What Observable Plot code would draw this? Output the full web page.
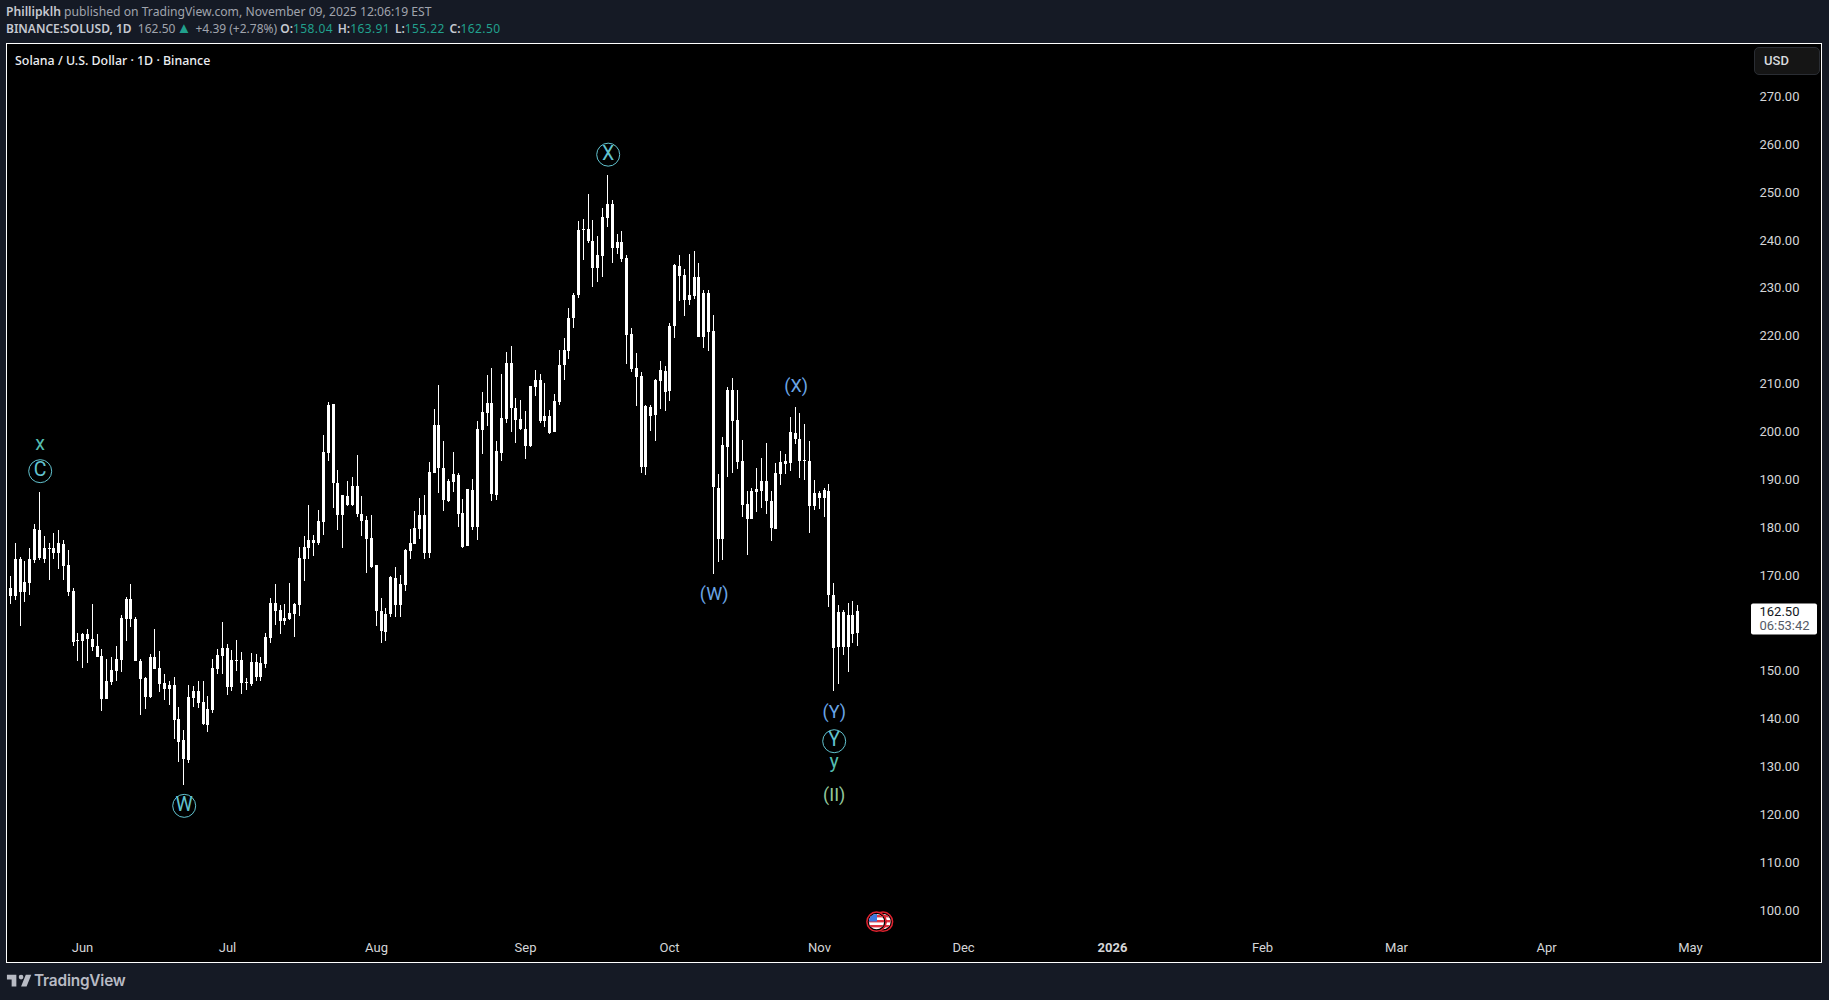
<!DOCTYPE html>
<html><head><meta charset="utf-8">
<script src="https://cdn.jsdelivr.net/npm/d3@7"></script>
<script src="https://cdn.jsdelivr.net/npm/@observablehq/plot@0.6"></script>
<style>
html,body{margin:0;padding:0;background:#151a25;width:1829px;height:1000px;overflow:hidden}
.abs{position:absolute;white-space:nowrap}
#head1,#head2{font:12px "Noto Sans",sans-serif;color:#a0a4ad;left:6px;line-height:16px}
#head1{top:4px;font-size:12.17px}#head2{top:21px}
#head1 b,#head2 b{color:#c6c9d1;font-weight:600}
.t{color:#21a08d}
.tri{font-size:15px;line-height:12px;margin:0 1px 0 -2px}
.v{letter-spacing:.4px;margin-right:1.7px}
#pane{left:6px;top:43px;width:1814px;height:918px;border:1px solid #fff;background:#000}
#title{left:15px;top:51.5px;font:500 12.4px/18px "Noto Sans",sans-serif;color:#eceef2}
#usd{left:1754px;top:47px;width:64px;height:26px;border:1px solid #2a2d33;border-radius:5px;background:#151515;color:#d8dade;font:500 13px/26px Roboto,sans-serif;text-indent:9px;box-sizing:content-box}
#chart{left:0;top:0}
#brand{left:34px;top:968.5px;font:600 15.4px/24px Inter,sans-serif;color:#b8bbc4;letter-spacing:-.2px}
</style></head><body>
<div class="abs" id="head1"><b>Phillipklh</b> published on TradingView.com, November 09, 2025 12:06:19 EST</div>
<div class="abs" id="head2"><b>BINANCE:SOLUSD, 1D</b>&nbsp; 162.50 <span class="t tri">▲</span> +4.39 (+2.78%) <b>O:</b><span class="t v">158.04</span> <b>H:</b><span class="t v">163.91</span> <b>L:</b><span class="t v">155.22</span> <b>C:</b><span class="t v">162.50</span></div>
<div class="abs" id="pane"></div>
<div class="abs" id="chart"></div>
<div class="abs" id="title">Solana / U.S. Dollar · 1D · Binance</div>
<div class="abs" id="usd">USD</div>
<svg class="abs" style="left:4px;top:970px" width="31" height="22" viewBox="0 0 36 28"><path fill="#b8bbc4" d="M14 6H2v6h6v9h6V6Zm13 15h-7l6-15h7l-6 15Zm-7-9a3 3 0 1 0 0-6 3 3 0 0 0 0 6Z"/></svg>
<div class="abs" id="brand">TradingView</div>
<script>
const firstDay = "2025-05-17";
const highs = [169.9,176.7,173.9,173.1,175.7,180.8,187.5,178.3,176.8,178.9,179.5,177.4,175.4,167.4,158.0,158.0,158.9,164.1,157.8,154.7,152.6,153.0,155.3,161.8,165.5,168.3,161.4,152.6,148.8,153.6,158.9,154.3,149.5,148.0,148.8,142.6,137.8,147.2,147.0,148.0,148.0,144.9,152.6,154.7,160.3,155.7,154.5,156.6,154.1,148.6,153.8,153.6,153.0,158.0,165.3,168.3,163.9,164.1,168.5,164.3,176.0,178.3,184.8,178.5,183.7,199.3,206.2,205.8,192.0,186.8,189.7,190.6,195.2,186.6,182.4,182.6,172.2,165.3,163.2,169.9,171.8,170.1,175.5,179.7,183.5,186.2,186.8,193.7,204.8,209.8,198.1,190.1,195.8,191.4,186.0,188.1,190.1,202.3,208.3,211.9,213.4,198.1,212.1,216.7,218.0,207.1,206.7,204.4,209.6,213.0,212.1,210.2,204.6,207.9,217.1,219.6,225.9,229.0,244.1,244.5,249.7,244.3,241.0,246.8,253.7,248.5,241.4,242.0,237.0,221.7,216.5,212.5,205.6,205.6,211.1,214.8,213.8,222.8,235.1,237.0,234.1,237.2,237.8,235.3,229.7,229.7,224.4,191.2,198.9,209.4,211.2,208.7,198.3,187.6,188.3,192.4,194.5,197.7,187.6,193.5,196.0,195.4,203.1,205.2,203.9,201.6,198.1,189.9,187.6,188.3,189.1,168.4,163.8,162.8,164.2,164.7,163.91];
const bodyTops = [167.4,173.5,173.5,168.6,173.5,179.7,179.5,175.8,175.8,175.8,176.8,176.6,172.2,166.8,156.6,157.8,157.8,156.8,155.3,153.2,148.0,150.3,152.6,161.2,165.1,165.1,160.9,152.2,148.6,153.0,153.0,150.7,147.6,147.2,147.2,140.1,135.7,144.7,145.9,145.9,143.6,142.2,150.7,153.4,154.9,154.9,152.4,152.4,152.4,147.8,152.0,152.0,151.8,157.2,164.3,164.3,162.8,161.2,162.2,164.1,173.7,176.0,177.4,177.4,181.4,195.8,205.6,205.8,189.3,186.8,186.6,188.7,188.7,182.8,181.6,177.8,172.2,162.6,162.0,169.7,169.5,168.2,175.3,176.8,179.9,182.6,182.6,191.6,201.4,201.4,192.4,189.7,191.2,191.0,183.0,188.1,187.8,200.6,204.1,206.0,206.1,196.0,202.9,214.4,214.4,205.0,202.7,200.6,209.6,210.9,210.9,203.4,203.4,206.5,214.0,217.1,223.8,228.6,242.2,242.4,242.4,239.9,237.0,244.9,247.6,247.6,239.7,239.7,236.4,220.5,213.4,211.7,205.4,205.2,210.9,212.9,212.7,222.2,234.9,234.7,232.8,228.6,232.4,232.4,229.1,229.1,221.1,188.3,197.2,208.7,208.7,202.5,193.9,184.9,187.6,188.1,189.7,189.7,185.5,191.4,193.7,193.9,200.0,199.7,198.5,194.1,193.9,187.2,187.2,187.8,187.6,165.9,162.4,162.4,161.7,161.7,162.50];
const bodyBottoms = [165.8,165.8,166.6,166.6,168.5,173.3,173.7,173.5,175.6,174.7,174.7,172.0,166.6,156.1,156.4,156.4,156.8,155.1,153.0,144.2,144.2,147.8,150.1,152.4,160.9,160.9,152.2,148.4,144.7,144.7,150.5,147.4,146.3,146.3,139.9,135.3,131.7,131.5,144.5,143.4,139.0,138.8,141.9,150.5,153.2,146.8,146.8,152.2,147.6,147.6,147.4,148.8,148.8,151.6,157.0,162.6,160.5,160.5,160.9,162.0,163.9,173.5,175.8,176.8,176.8,181.2,195.6,189.3,182.6,182.6,184.7,184.7,182.8,181.4,177.6,171.8,162.6,158.4,158.2,162.0,163.8,163.8,168.0,175.1,176.6,179.7,174.7,174.7,191.4,192.4,185.8,185.5,189.5,182.8,175.9,176.2,180.1,180.1,200.4,203.9,187.0,186.8,195.6,202.7,205.0,202.5,200.6,197.0,197.0,209.4,202.3,202.3,199.8,200.0,206.3,214.0,216.9,223.8,228.6,242.2,239.9,234.3,234.3,236.8,244.7,238.4,238.4,236.2,220.3,213.2,211.5,192.7,192.7,203.3,203.6,210.7,208.4,208.6,222.2,232.6,227.6,227.6,228.4,219.9,219.9,220.9,188.5,177.6,177.6,196.8,202.3,193.7,184.7,181.8,181.8,187.4,187.6,185.5,179.9,179.7,191.2,193.3,193.5,198.5,193.9,193.9,184.5,184.5,186.2,186.2,165.9,154.9,155.1,155.1,155.1,157.8,158.04];
const lows = [164.1,164.9,159.5,164.5,166.0,172.6,173.3,172.6,169.1,173.5,171.4,169.1,165.8,155.3,152.2,150.7,151.8,154.3,153.0,141.7,144.2,147.2,148.0,149.9,156.4,159.3,152.2,140.9,142.2,144.5,150.5,145.7,144.0,143.0,135.9,131.1,126.3,130.9,142.6,142.4,138.8,137.4,141.3,149.5,149.5,145.1,145.9,150.1,145.3,146.1,147.0,148.0,148.0,150.7,155.9,159.7,157.8,159.7,160.7,157.2,161.6,168.9,173.5,174.1,176.4,178.4,193.9,184.1,179.5,175.7,184.5,184.5,182.2,178.2,170.5,171.6,159.4,155.9,156.3,161.3,161.3,161.3,166.8,173.4,176.6,177.6,173.4,173.6,191.4,187.2,183.5,185.3,187.4,180.1,175.7,176.2,179.5,177.4,195.4,201.2,185.5,185.8,193.9,201.9,200.0,197.7,200.4,194.3,196.8,207.5,201.9,201.1,199.6,200.0,205.6,210.9,215.3,221.7,228.0,235.9,239.5,230.3,231.4,232.4,242.8,235.3,237.2,235.5,214.2,212.6,205.3,191.4,191.0,200.2,198.1,204.8,204.4,206.5,219.7,227.4,224.3,226.5,227.8,219.9,217.6,216.9,170.3,172.8,173.2,190.6,191.4,192.2,182.2,174.3,181.8,183.3,184.1,182.8,177.2,179.7,188.9,191.2,191.8,197.4,190.3,189.9,178.9,183.7,183.9,182.2,163.4,145.9,147.3,153.4,149.8,155.9,155.22];
const priceTicks = [100,110,120,130,140,150,170,180,190,200,210,220,230,240,250,260,270];
const monthTicks = ["2025-06-01","2025-07-01","2025-08-01","2025-09-01","2025-10-01","2025-11-01","2025-12-01","2026-01-01","2026-02-01","2026-03-01","2026-04-01","2026-05-01"];
const monthNames = ["Jun","Jul","Aug","Sep","Oct","Nov","Dec","2026","Feb","Mar","Apr","May"];
const lastPrice = 162.50;
const countdown = "06:53:42";
const waveDay = ["2025-05-23","2025-05-23","2025-06-22","2025-09-18","2025-10-27","2025-10-10","2025-11-04","2025-11-04","2025-11-04","2025-11-04"];
const wavePrice = [197.5,191.9,122.0,258.0,209.4,165.9,141.3,135.5,130.9,124.0];
const waveText = ["x","C","W","X","(X)","(W)","(Y)","Y","y","(II)"];
const waveColor = ["#55bdb0","#62c3cf","#62c3cf","#62c3cf","#6aa5e6","#6aa5e6","#6aa5e6","#62c3cf","#55bdb0","#93c79c"];
const waveCircled = [false,true,true,true,false,false,false,true,false,false];

const D = s => new Date(s + "T00:00:00Z");
const start = D(firstDay);
const candles = highs.map((h,i)=>({date:new Date(+start+i*864e5),h,t:bodyTops[i],b:bodyBottoms[i],l:lows[i]}));
const waves = waveText.map((text,i)=>({date:D(waveDay[i]),price:wavePrice[i],text,color:waveColor[i],circled:waveCircled[i]}));
const axisFont = "Roboto,sans-serif";

const tag = (index, scales) => {
  const g = d3.create("svg:g");
  const y = scales.y(lastPrice);
  g.append("rect").attr("x",1751).attr("y",y-8).attr("width",66).attr("height",31).attr("rx",2).attr("fill","#fff");
  return g.node();
};

const chart = Plot.plot({
  width:1829, height:1000,
  marginLeft:6, marginTop:43, marginBottom:37, marginRight:70,
  style:{background:"transparent",fontFamily:axisFont,fontSize:"13px",overflow:"visible"},
  x:{type:"utc",domain:[start,D("2026-05-01")],range:[10,1690],round:true},
  y:{domain:[270,100],range:[96.7,910.7],label:null},
  color:{type:"identity"},
  marks:[
    Plot.axisY({anchor:"right",ticks:priceTicks,tickSize:0,tickPadding:0,dy:-0.5,tickFormat:d=>d.toFixed(2),label:null,fill:"#d5d6d8",fontSize:13}),
    Plot.axisX({anchor:"bottom",ticks:monthTicks.map(D),tickSize:0,tickPadding:-21,tickFormat:d=>monthNames[monthTicks.indexOf(d.toISOString().slice(0,10))],label:null,fill:"#d5d6d8",fontSize:13}),
    Plot.ruleX(candles,{x:"date",y1:"l",y2:"h",stroke:"#fff",strokeWidth:1,shapeRendering:"crispEdges"}),
    Plot.ruleX(candles,{x:"date",y1:"b",y2:"t",stroke:"#fff",strokeWidth:3,shapeRendering:"crispEdges"}),
    Plot.dot(waves.filter(d=>d.circled),{x:"date",y:"price",r:11.5,dx:0.7,stroke:"color",fill:"none",strokeWidth:1}),
    Plot.text(waves,{x:"date",y:"price",text:"text",fill:"color",fontSize:d=>d.text.length===1?19.5:18,dx:0.7,dy:-1,fontFamily:"Roboto,sans-serif"}),
    tag,
    Plot.text([lastPrice],{y:d=>d,x:()=>start,text:d=>d.toFixed(2),fill:"#131722",fontSize:13,textAnchor:"start",dx:1749,frameAnchor:"left"}),
    Plot.text([lastPrice],{y:d=>d,x:()=>start,text:()=>countdown,fill:"#555a66",fontSize:13,textAnchor:"start",dx:1749,dy:14})
  ]
});
d3.select(chart).selectAll("text").filter(function(){return this.textContent==="2026"}).attr("font-weight","700");
document.getElementById("chart").appendChild(chart);
</script>
<svg class="abs" style="left:866px;top:910px" width="28" height="24" viewBox="0 0 28 24">
<defs><clipPath id="c1"><circle cx="10.5" cy="11.7" r="7.6"/></clipPath><clipPath id="c2"><circle cx="17" cy="11.7" r="7.6"/></clipPath></defs>
<g clip-path="url(#c2)"><rect x="8" y="3" width="18" height="18" fill="#fff"/><g fill="#e0333f"><rect x="8" y="5" width="18" height="2.4"/><rect x="8" y="10" width="18" height="2.4"/><rect x="8" y="15" width="18" height="2.4"/></g></g>
<circle cx="17" cy="11.7" r="9.6" fill="none" stroke="#e0222f" stroke-width="1.5"/>
<circle cx="10.5" cy="11.7" r="10" fill="#000"/>
<g clip-path="url(#c1)"><rect y="3" width="20" height="18" fill="#fff"/><g fill="#e0333f"><rect y="5" width="20" height="2.4"/><rect y="10" width="20" height="2.4"/><rect y="15" width="20" height="2.4"/></g><rect y="3" x="2" width="9" height="8.5" fill="#3b78e0"/></g>
<circle cx="10.5" cy="11.7" r="9.6" fill="none" stroke="#e0222f" stroke-width="1.5"/>
</svg>
</body></html>
